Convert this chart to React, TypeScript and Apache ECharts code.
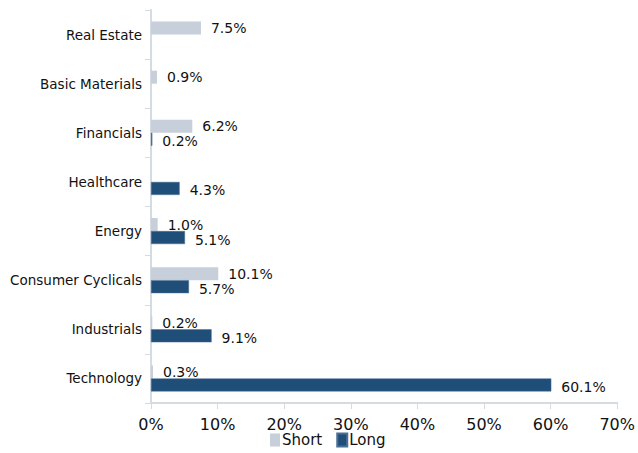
import React, { useEffect, useRef } from "react";
import * as echarts from "echarts";

const categories = [
  "Technology",
  "Industrials",
  "Consumer Cyclicals",
  "Energy",
  "Healthcare",
  "Financials",
  "Basic Materials",
  "Real Estate",
];
const shortValues: (number | null)[] = [0.3, 0.2, 10.1, 1.0, null, 6.2, 0.9, 7.5];
const longValues: (number | null)[] = [60.1, 9.1, 5.7, 5.1, 4.3, 0.2, null, null];
const xTicks = [0, 10, 20, 30, 40, 50, 60, 70];

const FONT = "DejaVu Sans";
const SHORT_COLOR = "#c6cfda";
const LONG_COLOR = "#1f4e79";
const AXIS_COLOR = "#d5dbe3";

export default function App() {
  const ref = useRef<HTMLDivElement>(null);
  useEffect(() => {
    if (!ref.current) return;
    const chart = echarts.init(ref.current, undefined, { renderer: "svg" });
    const label = {
      show: true,
      position: "right" as const,
      distance: 10,
      color: "#111",
      fontFamily: FONT,
      fontSize: 14,
      formatter: (p: any) => `${Number(p.value).toFixed(1)}%`,
    };
    chart.setOption({
      animation: false,
      backgroundColor: "#fff",
      textStyle: { fontFamily: FONT },
      grid: { left: 151, right: 20, top: 10, bottom: 50, containLabel: false },
      legend: {
        top: 431,
        left: 270,
        padding: 0,
        itemWidth: 10,
        itemHeight: 13,
        itemGap: 14,
        icon: "rect",
        textStyle: {
          fontFamily: FONT,
          fontSize: 15,
          lineHeight: 18,
          color: "#111",
          padding: [0, 0, 0, -3],
        },
        data: ["Short", "Long"],
      },
      xAxis: {
        type: "value",
        min: 0,
        max: 70,
        interval: 10,
        axisLine: { show: true, lineStyle: { color: AXIS_COLOR, width: 2 } },
        axisTick: { show: true, length: 6, lineStyle: { color: AXIS_COLOR, width: 1 } },
        splitLine: { show: false },
        axisLabel: {
          fontFamily: FONT,
          fontSize: 16,
          color: "#111",
          margin: 13,
          formatter: (v: number) => (xTicks.includes(v) ? `${v}%` : ""),
        },
      },
      yAxis: {
        type: "category",
        data: categories,
        axisLine: { show: true, lineStyle: { color: AXIS_COLOR, width: 2 } },
        axisTick: { show: true, length: 6, lineStyle: { color: AXIS_COLOR, width: 1 } },
        axisLabel: { fontFamily: FONT, fontSize: 13.5, color: "#111", margin: 9 },
      },
      series: [
        {
          name: "Short",
          type: "bar",
          data: shortValues.map((v) => (v === null ? "-" : v)),
          itemStyle: { color: SHORT_COLOR },
          barWidth: 13,
          barGap: "0%",
          label,
        },
        {
          name: "Long",
          type: "bar",
          data: longValues.map((v) => (v === null ? "-" : v)),
          itemStyle: { color: LONG_COLOR, borderColor: "#4a6f94", borderWidth: 0.5 },
          barWidth: 13,
          barGap: "0%",
          label: { ...label, offset: [0, 2] },
        },
      ],
    });
    return () => chart.dispose();
  }, []);
  return (
    <div
      ref={ref}
      style={{ position: "fixed", left: 0, top: 0, width: 638, height: 453 }}
    />
  );
}
